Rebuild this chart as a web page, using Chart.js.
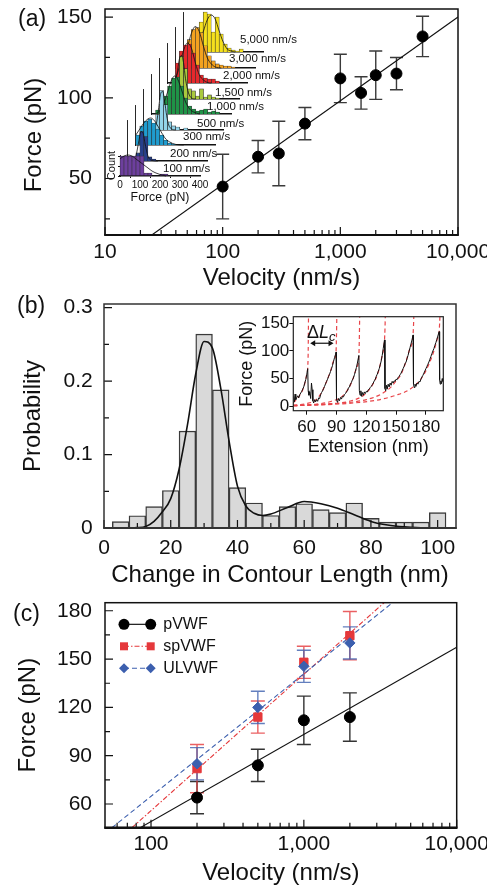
<!DOCTYPE html>
<html>
<head>
<meta charset="utf-8">
<script src="https://cdn.jsdelivr.net/npm/chart.js@4.4.1/dist/chart.umd.min.js"></script>
<style>
body { margin: 0; background: #fff; }
#fig { position: relative; width: 487px; height: 888px; overflow: hidden; font-family: 'Liberation Sans', Arial, sans-serif; color: #111; }
#fig canvas { position: absolute; }
.lbl { position: absolute; white-space: nowrap; line-height: 1; }
</style>
</head>
<body>
<div id="fig"></div>
<script>
//------------------------------------ data (a) ------------------------------------//
var aVelocity = [100, 200, 300, 500, 1000, 1500, 2000, 3000, 5000];
var aForce = [45, 63.5, 65.5, 84, 112, 103, 114, 115, 138];
var aError = [20, 10, 20, 10, 15, 10, 15, 10, 12.5];
var aFitVelocity = [25, 10000];
var aFitForce = [15, 150];
var aXMajor = [10, 100, 1000, 10000];
var aXMinor = [20, 30, 40, 50, 60, 70, 80, 90, 200, 300, 400, 500, 600, 700, 800, 900, 2000, 3000, 4000, 5000, 6000, 7000, 8000, 9000];
var aYMajor = [50, 100, 150];
var aYMinor = [25, 75, 125];

// inset histograms of (a): counts per 20 pN bin, front (100 nm/s) to back (5,000 nm/s)
var histLabels = ['100 nm/s', '200 nm/s', '300 nm/s', '500 nm/s', '1,000 nm/s', '1,500 nm/s', '2,000 nm/s', '3,000 nm/s', '5,000 nm/s'];
var histColors = ['#6d3f9e', '#263f8c', '#1f9ccf', '#93d4ea', '#1f9447', '#a9c93d', '#e6282c', '#f3a220', '#f5e01d'];
var histBins = [10, 30, 50, 70, 90, 110, 130, 150, 170, 190, 210, 230, 250, 270, 290, 310, 330, 350, 370, 390];
var histForceTicks = [0, 100, 200, 300, 400];
var h100 = [20, 20, 20, 20, 20, 20, 3, 3, 0, 0, 2, 2, 0, 0, 0, 0, 0, 0, 0, 0];
var h200 = [0, 0, 8, 29, 24, 4, 2, 0, 0, 0, 0, 0, 0, 0, 0, 0, 0, 0, 0, 0];
var h300 = [10, 19, 24, 26, 22, 16, 10, 5, 2, 1, 0, 0, 0, 0, 0, 0, 0, 0, 0, 0];
var h500 = [0, 0, 0, 15, 39, 25, 8, 4, 3, 0, 2, 0, 0, 0, 0, 0, 0, 0, 0, 0];
var h1000 = [0, 4, 10, 18, 28, 36, 37, 28, 16, 8, 5, 3, 4, 5, 2, 3, 2, 0, 0, 0];
var h1500 = [0, 0, 0, 0, 20, 42, 30, 10, 8, 3, 10, 2, 4, 2, 1, 0, 0, 0, 0, 0];
var h2000 = [0, 0, 20, 32, 38, 39, 30, 18, 8, 5, 4, 4, 2, 0, 0, 0, 0, 0, 0, 0];
var h3000 = [0, 0, 15, 28, 38, 40, 35, 22, 12, 7, 4, 3, 2, 2, 1, 0, 0, 0, 0, 0];
var h5000 = [0, 0, 0, 10, 30, 40, 38, 20, 35, 18, 8, 4, 2, 1, 3, 0, 0, 0, 0, 0];
var histCounts = [h100, h200, h300, h500, h1000, h1500, h2000, h3000, h5000];
// gaussian fits drawn on the histograms [force, count]
var g100 = [[0, 17], [20, 20], [40, 21], [60, 20], [80, 17], [100, 14], [120, 11], [140, 8], [160, 5], [180, 3], [200, 1.5], [230, 0]];
var g200 = [[20, 0], [40, 5], [55, 20], [65, 29], [75, 28], [85, 18], [100, 5], [120, 0.5], [150, 0]];
var g300 = [[0, 10], [20, 16], [40, 22], [60, 26], [75, 27], [90, 25], [110, 19], [130, 12], [150, 6], [170, 3], [200, 0.5], [240, 0]];
var g500 = [[50, 0], [65, 8], [75, 22], [85, 36], [95, 38], [105, 28], [115, 14], [125, 5], [140, 1], [160, 0]];
var g1000 = [[20, 0], [40, 3], [60, 10], [80, 22], [100, 34], [115, 38], [130, 35], [150, 24], [170, 12], [190, 5], [210, 2], [240, 0]];
var g1500 = [[60, 0], [75, 8], [90, 28], [100, 40], [110, 43], [120, 36], [130, 20], [145, 6], [160, 1], [180, 0]];
var g2000 = [[20, 0], [40, 5], [60, 16], [80, 32], [100, 40], [120, 35], [140, 20], [160, 8], [180, 3], [200, 0.5], [220, 0]];
var g3000 = [[20, 2], [40, 8], [60, 20], [80, 34], [100, 41], [120, 36], [140, 22], [160, 10], [180, 4], [200, 1], [230, 0]];
var g5000 = [[60, 1], [80, 8], [100, 20], [120, 32], [140, 37], [160, 33], [180, 21], [200, 10], [220, 3], [240, 1], [260, 0]];
var histFits = [g100, g200, g300, g500, g1000, g1500, g2000, g3000, g5000];

//------------------------------------ data (b) ------------------------------------//
var bLength = [5, 10, 15, 20, 25, 30, 35, 40, 45, 50, 55, 60, 65, 70, 75, 80, 85, 90, 95, 100];
var bProbability = [0.0086, 0.0167, 0.029, 0.051, 0.132, 0.264, 0.188, 0.055, 0.034, 0.017, 0.029, 0.033, 0.025, 0.021, 0.034, 0.013, 0.008, 0.008, 0.008, 0.021];
var bFitLength = [0, 5, 10, 12.5, 15, 17.5, 20, 22.5, 25, 27.5, 30, 32.5, 35, 37.5, 40, 42.5, 45, 47.5, 50, 55, 60, 65, 70, 75, 80, 85, 90, 95, 100, 105];
var bFitProb = [0, 0, 0.0005, 0.002, 0.009, 0.022, 0.04, 0.08, 0.14, 0.21, 0.254, 0.245, 0.19, 0.118, 0.057, 0.03, 0.02, 0.017, 0.019, 0.028, 0.036, 0.033, 0.027, 0.018, 0.009, 0.004, 0.0015, 0.0004, 0, 0];
var bXMajor = [0, 20, 40, 60, 80, 100];
var bXMinor = [10, 30, 50, 70, 90];
var bYMajor = [0, 0.1, 0.2, 0.3];
var bYMinor = [0.05, 0.15, 0.25];

// inset of (b): force-extension trace [nm, pN] and WLC fits
var trace = [
  [47, 18], [47.6, 8], [48.3, 22], [49, 12], [50, 16], [51, 19], [52, 15], [53, 21], [54, 24], [55, 27], [56, 31], [57, 35], [58, 42], [59, 48], [60, 57], [61, 68],
  [61.5, 28], [62.2, 20], [63, 26], [64, 14], [64.8, 42], [65.5, 30], [66.2, 10], [67, 6], [68, 12], [69, 8], [70, 12], [71, 9], [72, 15], [73, 14], [74, 21], [75, 25], [76, 28], [77, 32], [78, 36], [79, 41], [80, 45], [81, 49], [82, 54], [83, 58], [84, 63], [85, 68], [86, 74], [87, 81], [88, 88], [89, 94], [89.5, 98],
  [90, 12], [91, 7], [92, 14], [93, 10], [94, 16], [95, 13], [96, 18], [97, 17], [98, 21], [99, 23], [100, 26], [101, 28], [102, 33], [103, 35], [104, 40], [105, 43], [106, 48], [107, 51], [108, 57], [109, 63], [110, 70], [111, 78], [112.5, 92],
  [113, 28], [113.7, 20], [114.5, 28], [115.3, 18], [116, 25], [117, 20], [118, 26], [119, 23], [120, 27], [121, 26], [122, 30], [123, 31], [124, 34], [125, 36], [126, 39], [127, 42], [128, 46], [129, 49], [130, 54], [131, 58], [132, 63], [133, 68], [134, 75], [135, 82], [136, 92], [137, 104], [138.3, 120],
  [138.8, 32], [139.5, 28], [140.3, 38], [141, 31], [142, 40], [143, 35], [144, 42], [145, 38], [146, 45], [147, 42], [148, 46], [149, 45], [150, 49], [151, 48], [152, 52], [153, 54], [154, 57], [155, 60], [156, 64], [157, 68], [158, 72], [159, 77], [160, 80], [161, 86], [162, 92], [163, 99], [164, 106], [165, 113], [166, 120], [167, 129],
  [167.5, 40], [168.2, 34], [169, 40], [170, 36], [171, 42], [172, 40], [173, 45], [174, 44], [175, 49], [176, 53], [177, 56], [178, 60], [179, 64], [180, 68], [181, 72], [182, 76], [183, 80], [184, 85], [185, 90], [186, 95], [187, 100], [188, 104], [189, 110], [190, 115], [191, 121], [192, 127], [193.3, 135],
  [193.8, 48], [194.4, 40], [195, 46], [195.7, 41], [196.4, 50], [197, 45]
];
var wlc1 = [[46.5, 6], [50, 13], [53, 20], [56, 30], [58.5, 44], [60.2, 60], [61, 70], [61.5, 100], [61.8, 162]];
var wlc2 = [[46.5, 2], [60, 5], [68, 10], [74, 22], [80, 45], [84, 64], [87, 82], [89.5, 98], [90, 130], [90.3, 162]];
var wlc3 = [[46.5, 1.5], [70, 4], [85, 9], [95, 17], [102, 32], [106, 47], [109.5, 66], [112.5, 92], [113, 125], [113.3, 162]];
var wlc4 = [[46.5, 1], [80, 4], [105, 10], [118, 21], [126, 38], [132, 62], [135.5, 88], [138.3, 120], [138.8, 140], [139.1, 162]];
var wlc5 = [[46.5, 1], [90, 5], [120, 12], [135, 22], [145, 35], [150, 46], [155, 58], [159, 76], [163, 100], [167, 129], [167.5, 145], [167.8, 162]];
var wlc6 = [[46.5, 1], [100, 5], [130, 11], [150, 20], [165, 32], [176, 52], [183, 76], [188, 100], [191.5, 122], [193.3, 135], [193.8, 150], [194.1, 162]];
var wlcCurves = [wlc1, wlc2, wlc3, wlc4, wlc5, wlc6];
var insetXTicks = [60, 90, 120, 150, 180];
var insetYTicks = [0, 50, 100, 150];
var arrowSpan = [63.5, 87];
var arrowForce = 114;

//------------------------------------ data (c) ------------------------------------//
var cVelocity = [200, 500, 1000, 2000];
var pForce = [64, 84, 112, 114];
var pError = [10, 10, 15, 15];
var spForce = [82, 114, 148, 164.5];
var spError = [15, 10, 10, 15];
var ulForce = [85, 120, 145.5, 160];
var ulError = [10, 10, 10, 10];
var pFitVelocity = [85, 10000];
var pFitForce = [45.3, 157.3];
var spFitVelocity = [75, 3350];
var spFitForce = [45.3, 185];
var ulFitVelocity = [55.5, 3800];
var ulFitForce = [45.3, 185];
var cXMajor = [100, 1000, 10000];
var cXMinor = [60, 70, 80, 90, 200, 300, 400, 500, 600, 700, 800, 900, 2000, 3000, 4000, 5000, 6000, 7000, 8000, 9000];
var cYMajor = [60, 90, 120, 150, 180];
var cYMinor = [75, 105, 135, 165];

//------------------------------------ helpers ------------------------------------//
Chart.defaults.font.family = "'Liberation Sans', Arial, sans-serif";
Chart.defaults.color = '#111';
Chart.defaults.animation = false;
Chart.defaults.responsive = false;
Chart.defaults.maintainAspectRatio = false;
Chart.defaults.devicePixelRatio = 1;
Chart.defaults.plugins.legend.display = false;
Chart.defaults.plugins.tooltip.enabled = false;

var fig = document.getElementById('fig');

function makeCanvas(left, top, w, h) {
	var c = document.createElement('canvas');
	c.width = w;
	c.height = h;
	c.style.left = left + 'px';
	c.style.top = top + 'px';
	c.style.width = w + 'px';
	c.style.height = h + 'px';
	fig.appendChild(c);
	return c;
}

function addText(html, left, top, size, extra) {
	var d = document.createElement('div');
	d.className = 'lbl';
	d.innerHTML = html;
	d.style.left = left + 'px';
	d.style.top = top + 'px';
	d.style.fontSize = size + 'px';
	if(extra) d.style.cssText += extra;
	fig.appendChild(d);
	return d;
}

function pts(xs, ys) {
	return xs.map(function(x, i) { return {x: x, y: ys[i]}; });
}

function pairs(list) {
	return list.map(function(p) { return {x: p[0], y: p[1]}; });
}

function fixSize(size) {
	return function(scale) {
		if(scale.isHorizontal()) scale.height = size; else scale.width = size;
		scale.paddingLeft = scale.paddingRight = scale.paddingTop = scale.paddingBottom = 0;
	};
}

function setTicks(list) {
	var sorted = list.slice().sort(function(a, b) { return a - b; });
	return function(scale) {
		scale.ticks = sorted.map(function(v) { return {value: v}; });
	};
}

function mainAxis(o) {
	return {
		type: o.type || 'linear',
		min: o.min,
		max: o.max,
		afterBuildTicks: setTicks(o.major.concat(o.minor)),
		afterFit: fixSize(o.size),
		grid: {display: false, drawTicks: false},
		border: {display: false},
		ticks: {
			autoSkip: false, maxRotation: 0, minRotation: 0, padding: o.pad, font: {size: 21},
			callback: function(v) { return o.major.indexOf(v) >= 0 ? o.fmt(v) : ''; }
		},
		title: {display: !!o.title, text: o.title || '', font: {size: 24}, padding: o.titlePad || 0}
	};
}

// inward tick marks on the left and bottom sides of the plot frame
function innerTicks(axes) {
	return {
		id: 'innerTicks',
		afterDraw: function(chart) {
			var ctx = chart.ctx, area = chart.chartArea;
			ctx.save();
			ctx.strokeStyle = '#111';
			ctx.lineWidth = 1.2;
			ctx.beginPath();
			axes.forEach(function(ax) {
				var scale = chart.scales[ax.id];
				ax.major.concat(ax.minor).forEach(function(v) {
					var len = ax.major.indexOf(v) >= 0 ? 8 : 5;
					var p = scale.getPixelForValue(v);
					if(ax.id === 'x') {
						ctx.moveTo(p, area.bottom);
						ctx.lineTo(p, area.bottom - len);
					} else {
						ctx.moveTo(area.left, p);
						ctx.lineTo(area.left + len, p);
					}
				});
			});
			ctx.stroke();
			ctx.restore();
		}
	};
}

function frameBox(width, bottomWidth, color) {
	return {
		id: 'frameBox',
		afterDraw: function(chart) {
			var ctx = chart.ctx, a = chart.chartArea;
			ctx.save();
			ctx.strokeStyle = color || '#111';
			ctx.lineWidth = width;
			ctx.strokeRect(a.left, a.top, a.right - a.left, a.bottom - a.top);
			if(bottomWidth) {
				ctx.lineWidth = bottomWidth;
				ctx.beginPath();
				ctx.moveTo(a.left - 0.7, a.bottom);
				ctx.lineTo(a.right + 0.7, a.bottom);
				ctx.stroke();
			}
			ctx.restore();
		}
	};
}

function errorBars(list) {
	return {
		id: 'errorBars',
		beforeDatasetsDraw: function(chart) {
			var ctx = chart.ctx, xs = chart.scales.x, ys = chart.scales.y;
			ctx.save();
			list.forEach(function(e) {
				ctx.strokeStyle = e.color;
				ctx.lineWidth = 1.4;
				chart.data.datasets[e.dataset].data.forEach(function(p, j) {
					var x = xs.getPixelForValue(p.x);
					var y1 = ys.getPixelForValue(p.y - e.err[j]);
					var y2 = ys.getPixelForValue(p.y + e.err[j]);
					ctx.beginPath();
					ctx.moveTo(x, y1); ctx.lineTo(x, y2);
					ctx.moveTo(x - e.cap, y1); ctx.lineTo(x + e.cap, y1);
					ctx.moveTo(x - e.cap, y2); ctx.lineTo(x + e.cap, y2);
					ctx.stroke();
				});
			});
			ctx.restore();
		}
	};
}

function thousands(v) { return v.toLocaleString('en-US'); }

//------------------------------------ panel (a) ------------------------------------//
new Chart(makeCanvas(0, 0, 487, 295), {
	type: 'scatter',
	data: {
		datasets: [{
			data: pts(aVelocity, aForce),
			backgroundColor: '#000', borderColor: '#000', pointRadius: 5.5, order: 0
		}, {
			type: 'line',
			data: pts(aFitVelocity, aFitForce),
			borderColor: '#111', borderWidth: 1.1, pointRadius: 0, order: 1
		}]
	},
	options: {
		layout: {padding: {left: 0, top: 9, right: 29, bottom: 0}},
		scales: {
			x: mainAxis({type: 'logarithmic', min: 10, max: 10000, major: aXMajor, minor: aXMinor, size: 60, pad: 4.4,
				fmt: thousands, title: 'Velocity (nm/s)', titlePad: {top: 0, bottom: 2.6}}),
			y: mainAxis({min: 15, max: 155, major: aYMajor, minor: aYMinor, size: 105, pad: 13, fmt: String})
		}
	},
	plugins: [
		errorBars([{dataset: 0, err: aError, color: '#3a3a3a', cap: 6.5}]),
		innerTicks([{id: 'x', major: aXMajor, minor: aXMinor}, {id: 'y', major: aYMajor, minor: aYMinor}]),
		frameBox(1.5, 2.2)
	]
});

// waterfall of histograms, drawn back (5,000 nm/s) to front (100 nm/s)
function drawHist(i) {
	var first = i === 0;
	var x0 = 120 + 7.9 * i, y0 = 176 - 15.5 * i;
	var yMax = first ? 21 : 40;
	var yW = first ? 25 : 0;
	var xH = first ? 31 : 2;
	var left = Math.floor(x0 - yW - 2);
	var padL = x0 - yW - left;
	var top = Math.floor(y0 - yMax - 7);
	var padT = y0 - yMax - top;
	var padR = first ? 12 : 4;
	var w = Math.ceil(padL + yW + 80 + padR);
	var h = Math.ceil(padT + yMax + xH);
	padR = w - padL - yW - 80;

	new Chart(makeCanvas(left, top, w, h), {
		type: 'bar',
		data: {
			datasets: [{
				type: 'line',
				data: pairs(histFits[i]),
				borderColor: '#111', borderWidth: 0.8, pointRadius: 0,
				cubicInterpolationMode: 'monotone', clip: false, order: 0
			}, {
				data: histBins.map(function(b, k) { return {x: b, y: histCounts[i][k] || null}; }),
				backgroundColor: histColors[i], borderColor: '#2a2a2a', borderWidth: 0.6,
				barPercentage: 1, categoryPercentage: 1, clip: false, order: 1
			}]
		},
		options: {
			layout: {padding: {left: padL, top: padT, right: padR, bottom: 0}},
			scales: {
				x: {
					type: 'linear', min: 0, max: 400, offset: false,
					afterBuildTicks: setTicks(first ? histForceTicks : [0, 400]),
					afterFit: fixSize(xH),
					grid: {display: first, drawOnChartArea: false, drawTicks: true, tickLength: 2, color: '#111'},
					border: {display: true, color: '#111', width: 1.6},
					ticks: {display: first, autoSkip: false, maxRotation: 0, padding: 1.5, font: {size: 10}},
					title: {display: first, text: 'Force (pN)', font: {size: 12.3}, padding: {top: 0, bottom: 1.8}}
				},
				y: {
					min: 0, max: yMax,
					afterBuildTicks: setTicks(first ? [0, 10, 20] : [0, 40]),
					afterFit: fixSize(yW),
					grid: {display: first, drawOnChartArea: false, drawTicks: true, tickLength: 2, color: '#111'},
					border: {display: true, color: '#111', width: 0.9},
					ticks: {display: false},
					title: {display: first, text: 'Count', font: {size: 11}, padding: {top: 10.5, bottom: 0}}
				}
			}
		}
	});
}

for(var i = histCounts.length - 1; i >= 0; i--) drawHist(i);

var histLabelLeft = [163, 170, 183, 197, 207, 215, 223, 229, 240];
var histLabelMid = [169, 154, 137, 124, 107, 93, 76, 59, 40];
histLabels.forEach(function(t, k) {
	addText(t, histLabelLeft[k], histLabelMid[k] - 5.7, 11.5);
});

addText('Force (pN)', 33, 135, 24, 'transform:translate(-50%,-50%) rotate(-90deg);');
addText('(a)', 18, 6.5, 23);

//------------------------------------ panel (b) ------------------------------------//
new Chart(makeCanvas(0, 290, 487, 302), {
	type: 'bar',
	data: {
		datasets: [{
			type: 'line',
			data: pts(bFitLength, bFitProb),
			borderColor: '#111', borderWidth: 1.6, pointRadius: 0,
			cubicInterpolationMode: 'monotone', order: 0
		}, {
			data: pts(bLength, bProbability),
			backgroundColor: '#d9d9d9', borderColor: '#3a3a3a', borderWidth: 1.4, borderSkipped: false,
			barPercentage: 1, categoryPercentage: 1, order: 1
		}]
	},
	options: {
		layout: {padding: {left: 0, top: 14, right: 31, bottom: 0}},
		scales: {
			x: Object.assign(mainAxis({min: 0, max: 105.5, major: bXMajor, minor: bXMinor, size: 64, pad: 7.4, fmt: String,
				title: 'Change in Contour Length (nm)', titlePad: {top: 0, bottom: 2.6}}), {offset: false}),
			y: mainAxis({min: 0, max: 0.305, major: bYMajor, minor: bYMinor, size: 104, pad: 11.3,
				fmt: function(v) { return v === 0 ? '0' : String(v); }, title: 'Probability', titlePad: {top: 18.6, bottom: 0}})
		}
	},
	plugins: [
		innerTicks([{id: 'x', major: bXMajor, minor: bXMinor}, {id: 'y', major: bYMajor, minor: bYMinor}]),
		frameBox(1.5, 2, '#333')
	]
});
addText('(b)', 17, 293.5, 23);

// inset of (b)
var insetSets = wlcCurves.map(function(c) {
	return {
		data: pairs(c), borderColor: '#e8454a', borderWidth: 1.2, borderDash: [4, 3],
		pointRadius: 0, cubicInterpolationMode: 'monotone', order: 1
	};
});
insetSets.unshift({
	data: pairs(trace), borderColor: '#111', borderWidth: 1, pointRadius: 0, order: 0
});

new Chart(makeCanvas(230, 306, 220, 154), {
	type: 'line',
	data: {datasets: insetSets},
	options: {
		layout: {padding: {left: 0, top: 10.7, right: 6.7, bottom: 0}},
		scales: {
			x: {
				type: 'linear', min: 46.5, max: 197.5,
				afterBuildTicks: setTicks(insetXTicks),
				afterFit: fixSize(49.3),
				grid: {display: true, drawOnChartArea: false, drawTicks: true, tickLength: 4, color: '#111'},
				border: {display: false},
				ticks: {autoSkip: false, maxRotation: 0, padding: 2.4, font: {size: 17}},
				title: {display: true, text: 'Extension (nm)', font: {size: 18}, padding: {top: 0, bottom: 2.5}}
			},
			y: {
				min: -8, max: 162,
				afterBuildTicks: setTicks(insetYTicks),
				afterFit: fixSize(63.3),
				grid: {display: true, drawOnChartArea: false, drawTicks: true, tickLength: 4, color: '#111'},
				border: {display: false},
				ticks: {autoSkip: false, padding: 0, font: {size: 17}},
				title: {display: true, text: 'Force (pN)', font: {size: 18}, padding: {top: 5.9, bottom: 0}}
			}
		}
	},
	plugins: [
		frameBox(1.2, 0, '#222'),
		{
			id: 'deltaArrow',
			afterDatasetsDraw: function(chart) {
				var ctx = chart.ctx, xs = chart.scales.x, ys = chart.scales.y;
				var y = ys.getPixelForValue(arrowForce);
				var x1 = xs.getPixelForValue(arrowSpan[0]), x2 = xs.getPixelForValue(arrowSpan[1]);
				ctx.save();
				ctx.strokeStyle = '#111';
				ctx.fillStyle = '#111';
				ctx.lineWidth = 1.2;
				ctx.beginPath();
				ctx.moveTo(x1 + 3, y); ctx.lineTo(x2 - 3, y);
				ctx.stroke();
				ctx.beginPath();
				ctx.moveTo(x1, y); ctx.lineTo(x1 + 5, y - 3); ctx.lineTo(x1 + 5, y + 3); ctx.closePath();
				ctx.moveTo(x2, y); ctx.lineTo(x2 - 5, y - 3); ctx.lineTo(x2 - 5, y + 3); ctx.closePath();
				ctx.fill();
				ctx.restore();
			}
		}
	]
});
addText('&Delta;<i>L</i><sub style="font-size:13px;vertical-align:-3px"><i>c</i></sub>', 307, 322.5, 18);

//------------------------------------ panel (c) ------------------------------------//
var cRed = '#e5383b', cBlue = '#3c5fae';

new Chart(makeCanvas(0, 590, 487, 298), {
	type: 'scatter',
	data: {
		datasets: [{
			data: pts(cVelocity, pForce), pointStyle: 'circle', pointRadius: 5.5,
			backgroundColor: '#000', borderColor: '#000', order: 2
		}, {
			data: pts(cVelocity, spForce), pointStyle: 'rect', pointRadius: 5.9,
			backgroundColor: cRed, borderColor: cRed, order: 1
		}, {
			data: pts(cVelocity, ulForce), pointStyle: 'rectRot', pointRadius: 5.2,
			backgroundColor: cBlue, borderColor: cBlue, order: 0
		}, {
			type: 'line', data: pts(pFitVelocity, pFitForce),
			borderColor: '#111', borderWidth: 1.1, pointRadius: 0, order: 5
		}, {
			type: 'line', data: pts(spFitVelocity, spFitForce),
			borderColor: cRed, borderWidth: 1.1, borderDash: [5, 2, 1.5, 2], pointRadius: 0, order: 4
		}, {
			type: 'line', data: pts(ulFitVelocity, ulFitForce),
			borderColor: cBlue, borderWidth: 1.1, borderDash: [5, 3], pointRadius: 0, order: 3
		}]
	},
	options: {
		layout: {padding: {left: 0, top: 12.7, right: 30.3, bottom: 0}},
		scales: {
			x: mainAxis({type: 'logarithmic', min: 50, max: 10000, major: cXMajor, minor: cXMinor, size: 60.3, pad: 3.7,
				fmt: thousands, title: 'Velocity (nm/s)', titlePad: {top: 0, bottom: 0.6}}),
			y: mainAxis({min: 45.3, max: 185, major: cYMajor, minor: cYMinor, size: 105, pad: 13, fmt: String,
				title: 'Force (pN)', titlePad: {top: 13.6, bottom: 0}})
		}
	},
	plugins: [
		errorBars([
			{dataset: 0, err: pError, color: '#333', cap: 7},
			{dataset: 1, err: spError, color: 'rgba(229,56,59,0.8)', cap: 7},
			{dataset: 2, err: ulError, color: 'rgba(60,95,174,0.8)', cap: 7}
		]),
		innerTicks([{id: 'x', major: cXMajor, minor: cXMinor}, {id: 'y', major: cYMajor, minor: cYMinor}]),
		frameBox(1.5, 2.5),
		{
			id: 'legendC',
			afterDraw: function(chart) {
				var ctx = chart.ctx, a = chart.chartArea;
				var items = [
					{text: 'pVWF', color: '#000', dash: [], style: 'circle'},
					{text: 'spVWF', color: cRed, dash: [5, 2, 1.5, 2], style: 'rect'},
					{text: 'ULVWF', color: cBlue, dash: [5, 3], style: 'diamond'}
				];
				ctx.save();
				items.forEach(function(it, k) {
					var y = a.top + 21.6 + k * 22;
					var x1 = a.left + 19, x2 = a.left + 45.7;
					ctx.strokeStyle = it.color;
					ctx.fillStyle = it.color;
					ctx.lineWidth = 1.1;
					ctx.setLineDash(it.dash);
					ctx.beginPath();
					ctx.moveTo(x1, y); ctx.lineTo(x2, y);
					ctx.stroke();
					ctx.setLineDash([]);
					[x1, x2].forEach(function(x) {
						ctx.beginPath();
						if(it.style === 'circle') {
							ctx.arc(x, y, 5.5, 0, Math.PI * 2);
						} else if(it.style === 'rect') {
							ctx.rect(x - 4, y - 4, 8, 8);
						} else {
							ctx.moveTo(x, y - 5); ctx.lineTo(x + 5, y); ctx.lineTo(x, y + 5); ctx.lineTo(x - 5, y); ctx.closePath();
						}
						ctx.fill();
					});
					ctx.fillStyle = '#111';
					ctx.font = "16px 'Liberation Sans', Arial, sans-serif";
					ctx.textBaseline = 'middle';
					ctx.fillText(it.text, a.left + 58.3, y + 0.5);
				});
				ctx.restore();
			}
		}
	]
});
addText('(c)', 13, 601.5, 23);
</script>
</body>
</html>
